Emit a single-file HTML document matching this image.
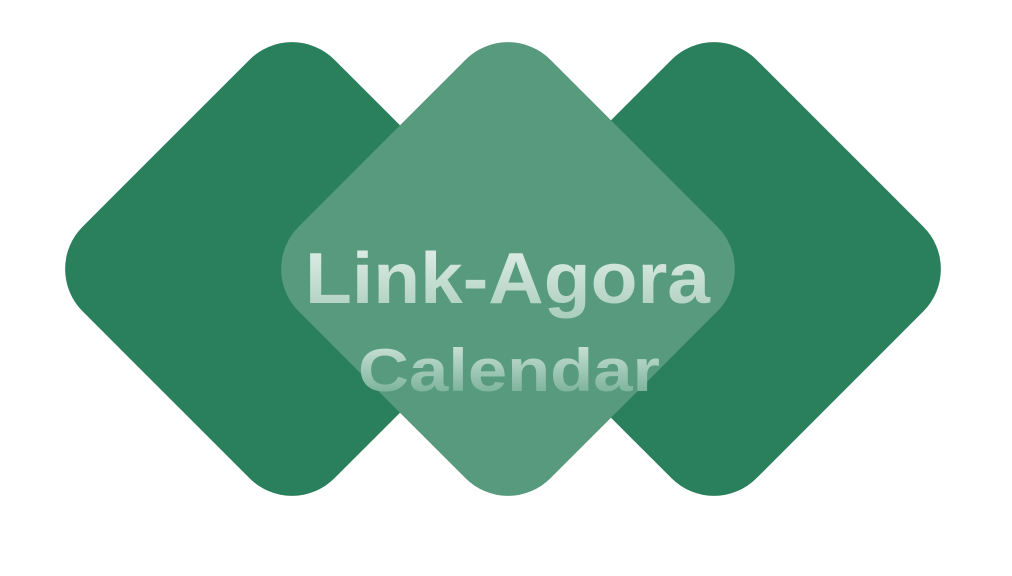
<!DOCTYPE html>
<html><head><meta charset="utf-8"><style>
html,body{margin:0;padding:0;background:#fff;width:1012px;height:576px;overflow:hidden}
</style></head><body>
<svg width="1012" height="576" viewBox="0 0 1012 576">
<defs>
<linearGradient id="g1" x1="0" y1="0" x2="0" y2="1">
<stop offset="0" stop-color="#e4f0ea"/><stop offset="1" stop-color="#a9cdbc"/>
</linearGradient>
<linearGradient id="g2" x1="0" y1="0" x2="0" y2="1">
<stop offset="0" stop-color="#d6e8df"/><stop offset="1" stop-color="#6aa88e"/>
</linearGradient>
</defs>
<rect x="-178" y="-178" width="356" height="356" rx="60" fill="#2a7f5c" transform="translate(292,269) rotate(45)"/>
<rect x="-178" y="-178" width="356" height="356" rx="60" fill="#2a7f5c" transform="translate(714,269) rotate(45)"/>
<rect x="-178" y="-178" width="356" height="356" rx="60" fill="#579a7e" transform="translate(508,269) rotate(45)"/>
<text x="305" y="303" textLength="405" lengthAdjust="spacingAndGlyphs" font-family="Liberation Sans, sans-serif" font-weight="bold" font-size="72" fill="url(#g1)">Link-Agora</text>
<text x="358" y="391" textLength="302" lengthAdjust="spacingAndGlyphs" font-family="Liberation Sans, sans-serif" font-weight="bold" font-size="60" fill="url(#g2)">Calendar</text>
</svg>
</body></html>
